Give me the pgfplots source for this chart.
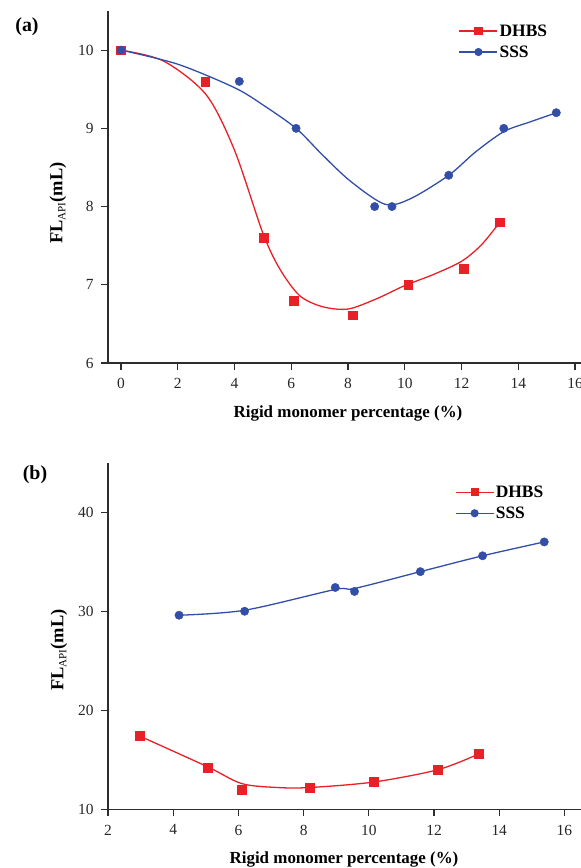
\documentclass[border=0pt]{standalone}
\usepackage{pgfplots}
\pgfplotsset{compat=1.18}
\usepackage{fontspec}
\setmainfont{Liberation Serif}
\definecolor{cred}{RGB}{232,32,40}
\definecolor{cblue}{RGB}{50,78,166}
\definecolor{caxis}{RGB}{45,45,45}
\pgfplotsset{
  myaxis/.style={
    scale only axis,
    axis x line*=bottom, axis y line*=left,
    axis line style={caxis, line width=1.3bp},
    tick style={caxis, line width=1.2bp},
    tick align=outside, major tick length=7bp,
    minor tick num=0,
    /pgf/number format/assume math mode=true,
    tick label style={font=\fontsize{15.5}{18}\selectfont, text=black!85},
    xticklabel style={yshift=-5bp},
    yticklabel style={xshift=-4bp},
    legend style={draw=none, fill=none, inner sep=0pt, outer sep=0pt,
      font=\bfseries\fontsize{17.5}{20}\selectfont, row sep=5bp,
      nodes={inner sep=1.5bp}},
    legend cell align=left,
    legend image code/.code={
      \draw[line width=1.3bp, mark repeat=2,mark phase=2,mark size=3.4bp] plot coordinates {(0bp,0bp) (19bp,0bp) (38bp,0bp)};},
    clip=false,
  },
  redc/.style={cred, line width=1.3bp, smooth, no markers},
  bluec/.style={cblue, line width=1.3bp, smooth, no markers},
  redm/.style={only marks, mark=square*, mark size=4.4bp, mark options={fill=cred, draw=cred}},
  bluem/.style={only marks, mark=*, mark size=4.2bp, mark options={fill=cblue, draw=cblue}},
}
\begin{document}
\begin{tikzpicture}
% ---------------- panel (a)
\begin{axis}[myaxis,
  at={(108bp,-363bp)}, anchor=south west,
  width=481.2bp, height=352bp,
  xmin=-0.458, xmax=16.5, ymin=6, ymax=10.5,
  xtick={0,2,...,16}, ytick={6,7,8,9,10},
  legend style={at={(axis description cs:0.729,0.966)}, anchor=north west},
]
\addlegendimage{cred, mark=square*, mark options={fill=cred}}
\addlegendentry{DHBS}
\addlegendimage{cblue, mark=*, mark options={fill=cblue}}
\addlegendentry{SSS}
\addplot[redc, forget plot] coordinates {
 (0,10) (1.5,9.86) (3,9.43) (4,8.72) (5,7.66) (5.6,7.2) (6.3,6.86)
 (7.1,6.72) (8,6.69) (9,6.82) (10,6.99) (11,7.13) (12,7.30) (12.7,7.51) (13.35,7.8)};
\addplot[bluec, forget plot] coordinates {
 (0,10) (2,9.82) (4,9.52) (5,9.3) (6.17,9.0) (7.1,8.66) (8.1,8.32) (9.3,8.03)
 (10.2,8.1) (11.55,8.4) (12.5,8.7) (13.5,8.96) (14.4,9.08) (15.35,9.2)};
\addplot[redm, forget plot] coordinates {
 (0,10) (2.97,9.6) (5.03,7.6) (6.08,6.8) (8.17,6.61) (10.12,7.0) (12.09,7.21) (13.35,7.8)};
\addplot[bluem, forget plot] coordinates {
 (0,10) (4.17,9.6) (6.17,9.0) (8.94,8.0) (9.55,8.0) (11.55,8.4) (13.49,9.0) (15.34,9.2)};
\end{axis}
% ---------------- panel (b)
\begin{axis}[myaxis,
  at={(108bp,-809.3bp)}, anchor=south west,
  width=476bp, height=346.6bp,
  xmin=2, xmax=16.6, ymin=10, ymax=45,
  xtick={2,4,...,16}, ytick={10,20,30,40},
  legend style={at={(axis description cs:0.729,0.938)}, anchor=north west},
]
\addlegendimage{cred, mark=square*, mark options={fill=cred}}
\addlegendentry{DHBS}
\addlegendimage{cblue, mark=*, mark options={fill=cblue}}
\addlegendentry{SSS}
\addplot[redc, forget plot] coordinates {
 (2.97,17.4) (5.05,14.3) (6.1,12.6) (7.2,12.2) (8.18,12.2) (10.14,12.75) (12.12,14.0) (13.38,15.6)};
\addplot[bluec, forget plot] coordinates {
 (4.18,29.6) (6.19,30.1) (8.97,32.2) (9.56,32.3) (11.58,34.0) (13.49,35.6) (15.38,37.0)};
\addplot[redm, forget plot] coordinates {
 (2.97,17.4) (5.05,14.2) (6.1,12.0) (8.18,12.2) (10.14,12.8) (12.12,14.0) (13.38,15.6)};
\addplot[bluem, forget plot] coordinates {
 (4.18,29.6) (6.19,30.0) (8.97,32.4) (9.56,32.0) (11.58,34.0) (13.49,35.6) (15.38,37.0)};
\end{axis}
% ---------------- labels
\node[font=\bfseries\fontsize{20}{23}\selectfont] at (27bp,-27bp) {(a)};
\node[font=\bfseries\fontsize{20}{23}\selectfont] at (35bp,-475bp) {(b)};
\node[rotate=90, font=\bfseries\fontsize{18.5}{22}\selectfont] at (58bp,-203bp)
  {FL\raisebox{-0.35ex}{\mdseries\fontsize{11}{11}\selectfont API}(mL)};
\node[rotate=90, font=\bfseries\fontsize{18.5}{22}\selectfont] at (59bp,-650bp)
  {FL\raisebox{-0.35ex}{\mdseries\fontsize{11}{11}\selectfont API}(mL)};
\node[font=\bfseries\fontsize{17}{20}\selectfont] at (348bp,-413bp) {Rigid monomer percentage (\%)};
\node[font=\bfseries\fontsize{17}{20}\selectfont] at (344bp,-859bp) {Rigid monomer percentage (\%)};
\pgfresetboundingbox
\path (0bp,0bp) rectangle (581bp,-868bp);
\end{tikzpicture}
\end{document}
